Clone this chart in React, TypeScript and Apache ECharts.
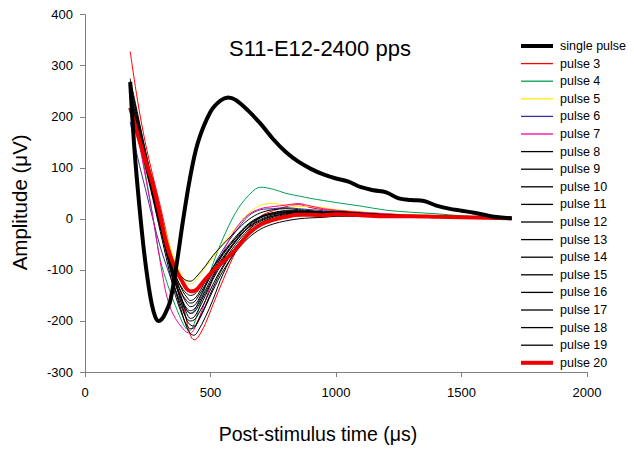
import React, { useEffect, useRef } from "react";
import * as echarts from "echarts";

const titleText = "S11-E12-2400 pps";
const xName = "Post-stimulus time (μs)";
const yName = "Amplitude (μV)";

const singleT = [180, 195, 210, 232, 250, 266, 280, 292, 305, 320, 340, 365, 390, 418, 450, 500, 540, 570, 600, 650, 700, 750, 800, 850, 900, 950, 1000, 1050, 1100, 1150, 1200, 1250, 1300, 1350, 1400, 1450, 1500, 1550, 1600, 1650, 1700];
const singlePulse = [268, 150, 60, -50, -120, -167, -192, -200, -197, -185, -160, -89, -5, 79, 150, 210, 232, 238, 233, 212, 186, 156, 131, 112, 98, 87, 79, 73, 62, 56, 52, 40, 37, 35, 26, 20, 16, 12, 7, 3, 1];

const T = [180, 210, 240, 270, 300, 330, 360, 390, 405, 420, 435, 450, 480, 510, 550, 600, 650, 700, 750, 800, 850, 900, 950, 1000, 1100, 1200, 1300, 1400, 1500, 1600, 1700];

const pulse3 = [328, 230, 150, 85, 25, -40, -105, -165, -200, -228, -237, -232, -205, -168, -120, -65, -25, 5, 16, 24, 28, 22, 18, 16, 12, 10, 6, 5, 3, 2, 0];
const pulse4 = [250, 170, 90, 5, -80, -130, -170, -205, -216, -218, -205, -183, -132, -88, -38, 12, 45, 62, 58, 50, 45, 40, 36, 32, 25, 17, 13, 10, 6, 3, 0];
const pulse5 = [235, 180, 125, 70, 15, -40, -85, -115, -124, -128, -124, -115, -95, -76, -48, -18, 10, 27, 30, 27, 24, 25, 22, 18, 14, 10, 8, 6, 4, 2, 0];
const pulse6 = [190, 120, 60, 0, -55, -100, -140, -170, -180, -185, -180, -165, -130, -95, -60, -25, 5, 18, 20, 22, 20, 18, 16, 14, 12, 8, 6, 4, 3, 2, 0];
const pulse7 = [245, 165, 85, 5, -85, -160, -195, -215, -222, -224, -216, -200, -160, -115, -65, -20, 8, 20, 24, 27, 30, 25, 20, 17, 13, 10, 7, 5, 3, 2, 0];
const pulse8 = [270, 200, 135, 70, 5, -60, -120, -165, -185, -195, -192, -180, -150, -118, -85, -50, -22, -5, 5, 10, 12, 12, 10, 12, 9, 7, 6, 4, 3, 2, 0];
const pulse9 = [262, 195, 128, 62, -2, -65, -125, -175, -198, -208, -210, -200, -170, -135, -95, -58, -28, -8, 3, 8, 10, 10, 9, 10, 8, 6, 5, 4, 3, 1, 0];
const pulse10 = [255, 190, 125, 60, -5, -65, -115, -152, -165, -172, -170, -160, -132, -105, -75, -42, -15, 2, 10, 14, 15, 13, 12, 12, 10, 8, 6, 4, 3, 1, 0];
const pulse11 = [248, 185, 120, 55, -10, -75, -140, -190, -212, -225, -228, -220, -192, -158, -108, -62, -32, -12, 0, 5, 8, 9, 8, 9, 7, 6, 5, 3, 2, 1, 0];
const pulse12 = [242, 180, 118, 55, -8, -65, -110, -142, -153, -160, -157, -148, -122, -95, -66, -35, -10, 5, 12, 15, 15, 14, 12, 13, 10, 8, 6, 4, 3, 1, 0];
const pulse13 = [238, 176, 112, 48, -15, -75, -128, -165, -178, -185, -183, -172, -145, -115, -80, -45, -18, -3, 6, 10, 11, 11, 10, 11, 9, 7, 5, 4, 2, 1, 0];
const pulse14 = [232, 172, 108, 45, -18, -80, -138, -180, -195, -200, -198, -188, -160, -128, -92, -55, -28, -12, -3, 3, 6, 7, 7, 8, 7, 5, 4, 3, 2, 1, 0];
const pulse15 = [228, 170, 110, 50, -8, -60, -98, -116, -121, -122, -118, -110, -92, -72, -50, -25, -2, 12, 18, 20, 18, 16, 14, 14, 11, 8, 6, 4, 3, 1, 0];
const pulse16 = [225, 168, 108, 48, -12, -68, -112, -138, -146, -150, -148, -140, -118, -95, -68, -38, -12, 3, 10, 13, 14, 13, 11, 12, 9, 7, 5, 4, 2, 1, 0];
const pulse17 = [222, 165, 102, 40, -25, -90, -150, -192, -208, -215, -213, -202, -172, -140, -102, -65, -38, -20, -10, -4, 0, 2, 3, 5, 5, 4, 3, 3, 2, 1, 0];
const pulse18 = [275, 205, 135, 65, -5, -70, -125, -162, -175, -180, -177, -167, -140, -110, -78, -44, -17, -1, 8, 12, 13, 12, 11, 12, 9, 7, 5, 4, 3, 1, 0];
const pulse19 = [235, 175, 112, 50, -12, -70, -118, -150, -160, -165, -163, -153, -128, -100, -70, -38, -12, 4, 12, 16, 16, 15, 13, 14, 11, 8, 6, 4, 3, 1, 0];
const pulse20 = [218, 165, 115, 68, 5, -58, -97, -125, -137, -142, -141, -136, -118, -102, -84, -60, -30, -11, -2, 4, 8, 8, 7, 9, 7, 5, 5, 4, 3, 2, 1];

const FONT = "Liberation Sans, Arial, sans-serif";
const THIN_ICON = "path://M0,0L32,0L32,1.3L0,1.3Z";
const THICK_ICON = "path://M0,0L32,0L32,4L0,4Z";

export default function App() {
  const ref = useRef<HTMLDivElement>(null);
  useEffect(() => {
    if (!ref.current) return;
    const chart = echarts.init(ref.current, undefined, { renderer: "svg" });
    const pair = (ts: number[], vs: number[]) => ts.map((t, i) => [t, vs[i]]);
    const mk = (name: string, ts: number[], vs: number[], color: string, width: number, z = 2) => ({
      name,
      type: "line",
      data: pair(ts, vs),
      smooth: 0.35,
      showSymbol: false,
      symbol: "none",
      z,
      lineStyle: { color, width },
      itemStyle: { color },
    });
    const series = [
      mk("single pulse", singleT, singlePulse, "#000000", 4, 5),
      mk("pulse 3", T, pulse3, "#FF0000", 1),
      mk("pulse 4", T, pulse4, "#00A050", 1),
      mk("pulse 5", T, pulse5, "#FFEE00", 1),
      mk("pulse 6", T, pulse6, "#333399", 1),
      mk("pulse 7", T, pulse7, "#FF0099", 1),
      mk("pulse 8", T, pulse8, "#000000", 1),
      mk("pulse 9", T, pulse9, "#000000", 1),
      mk("pulse 10", T, pulse10, "#000000", 1),
      mk("pulse 11", T, pulse11, "#000000", 1),
      mk("pulse 12", T, pulse12, "#000000", 1),
      mk("pulse 13", T, pulse13, "#000000", 1),
      mk("pulse 14", T, pulse14, "#000000", 1),
      mk("pulse 15", T, pulse15, "#000000", 1),
      mk("pulse 16", T, pulse16, "#000000", 1),
      mk("pulse 17", T, pulse17, "#000000", 1),
      mk("pulse 18", T, pulse18, "#000000", 1),
      mk("pulse 19", T, pulse19, "#000000", 1),
      mk("pulse 20", T, pulse20, "#EE0000", 4, 4),
    ];
    chart.setOption({
      animation: false,
      backgroundColor: "#ffffff",
      textStyle: { fontFamily: FONT },
      title: {
        text: titleText,
        left: 315,
        top: 32,
        textAlign: "center",
        textStyle: { fontFamily: FONT, fontSize: 22, fontWeight: "normal", color: "#000" },
      },
      legend: {
        orient: "vertical",
        left: 521,
        top: 39,
        padding: 0,
        itemWidth: 32,
        itemHeight: 14,
        itemGap: 3.6,
        selectedMode: false,
        symbolKeepAspect: true,
        textStyle: { fontFamily: FONT, fontSize: 12.5, lineHeight: 14, color: "#000", padding: [0, 0, 0, 2] },
        data: series.map((s) => ({
          name: s.name,
          icon: s.lineStyle.width > 2 ? THICK_ICON : THIN_ICON,
        })),
      },
      grid: { left: 85, right: 47, top: 14.7, bottom: 74, containLabel: false },
      xAxis: {
        type: "value",
        min: 0,
        max: 2000,
        interval: 500,
        name: xName,
        nameLocation: "middle",
        nameGap: 52,
        nameTextStyle: { fontFamily: FONT, fontSize: 19.5, color: "#000", padding: [0, 36, 0, 0] },
        axisLine: { onZero: false, lineStyle: { color: "#808080", width: 1 } },
        axisTick: { show: true, length: 5, lineStyle: { color: "#808080" } },
        axisLabel: { fontFamily: FONT, fontSize: 13, color: "#000", margin: 14, formatter: (v: number) => String(v) },
        splitLine: { show: false },
      },
      yAxis: {
        type: "value",
        min: -300,
        max: 400,
        interval: 100,
        name: yName,
        nameLocation: "middle",
        nameGap: 55,
        nameTextStyle: { fontFamily: FONT, fontSize: 20.5, color: "#000", padding: [0, 18, 0, 0] },
        axisLine: { show: true, onZero: false, lineStyle: { color: "#808080", width: 1 } },
        axisTick: { show: true, length: 5, lineStyle: { color: "#808080" } },
        axisLabel: { fontFamily: FONT, fontSize: 13, color: "#000", margin: 12, formatter: (v: number) => String(v) },
        splitLine: { show: false },
      },
      series,
    });
    return () => chart.dispose();
  }, []);
  return (
    <div
      ref={ref}
      style={{ position: "absolute", left: 0, top: 0, width: 634, height: 449, background: "#fff" }}
    />
  );
}
